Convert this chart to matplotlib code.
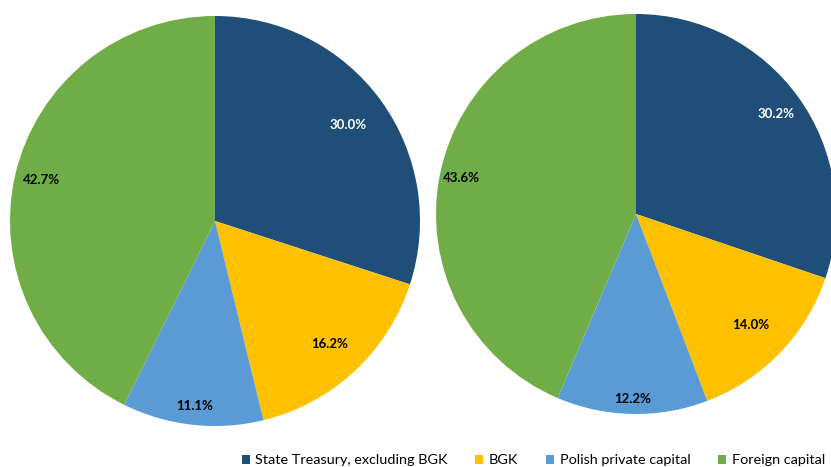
import numpy as np
import matplotlib
matplotlib.use("Agg")
import matplotlib.pyplot as plt

categories = ["State Treasury, excluding BGK", "BGK", "Polish private capital", "Foreign capital"]
left_values = [30.0, 16.2, 11.1, 42.7]
right_values = [30.2, 14.0, 12.2, 43.6]

colors = ["#1F4E79", "#FFC000", "#5B9BD5", "#70AD47"]
label_colors = ["white", "black", "black", "black"]

W, H = 831, 467
fig = plt.figure(figsize=(W / 100, H / 100), dpi=100)


def pie_axes(cx, cy, r):
    # cx, cy, r in pixels (y from top)
    return fig.add_axes([(cx - r) / W, (H - cy - r) / H, 2 * r / W, 2 * r / H])


def draw_pie(ax, values, dists):
    wedges, _ = ax.pie(values, colors=colors, startangle=90, counterclock=False,
                       radius=1, wedgeprops=dict(linewidth=0))
    for w, v, d, c in zip(wedges, values, dists, label_colors):
        ang = np.deg2rad((w.theta1 + w.theta2) / 2)
        ax.text(d * np.cos(ang), d * np.sin(ang), f"{v:.1f}%", ha="center", va="center",
                fontsize=9.5, fontweight="bold", color=c, family=["Lato", "DejaVu Sans"])
    ax.set_xlim(-1, 1)
    ax.set_ylim(-1, 1)
    ax.set_aspect("equal")
    ax.axis("off")
    return wedges


ax1 = pie_axes(215, 221, 205)
wedges = draw_pie(ax1, left_values, [0.80, 0.82, 0.91, 0.87])
ax2 = pie_axes(636, 214, 200)
draw_pie(ax2, right_values, [0.86, 0.80, 0.925, 0.89])

fig.legend(wedges, categories, loc="lower left", bbox_to_anchor=(241 / W, 0),
           ncol=4, frameon=False, borderpad=0.05, borderaxespad=0,
           handlelength=0.55, handleheight=0.55, handletextpad=0.4,
           columnspacing=1.9, prop=dict(family=["Lato", "DejaVu Sans"], size=10.4))

fig.savefig("out.png", dpi=100)
